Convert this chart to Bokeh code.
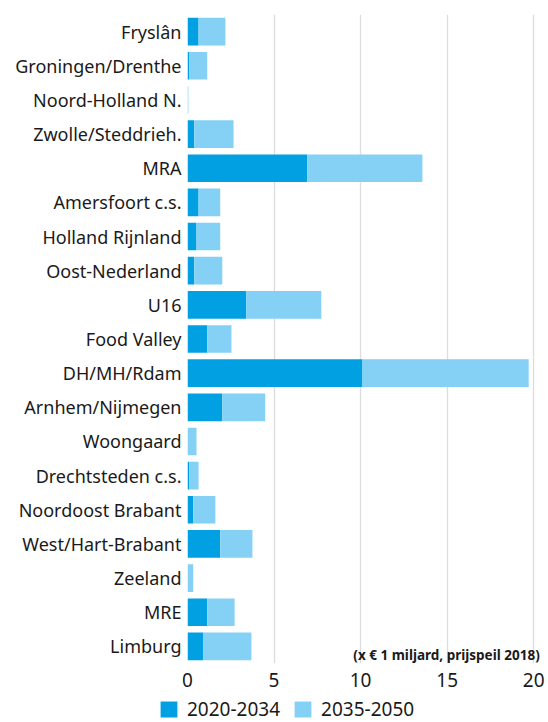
from bokeh.plotting import figure
from bokeh.layouts import column
from bokeh.models import FactorRange, Range1d, Legend, LegendItem, Label, ColumnDataSource
from bokeh.embed import file_html
from bokeh.resources import INLINE

regions = ["Fryslân", "Groningen/Drenthe", "Noord-Holland N.", "Zwolle/Steddrieh.", "MRA",
           "Amersfoort c.s.", "Holland Rijnland", "Oost-Nederland", "U16", "Food Valley",
           "DH/MH/Rdam", "Arnhem/Nijmegen", "Woongaard", "Drechtsteden c.s.",
           "Noordoost Brabant", "West/Hart-Brabant", "Zeeland", "MRE", "Limburg"]
p2020_2034 = [0.64, 0.11, 0.0, 0.39, 6.92, 0.64, 0.52, 0.39, 3.40, 1.14,
              10.11, 2.01, 0.0, 0.11, 0.33, 1.89, 0.0, 1.14, 0.92]
p2035_2050 = [1.55, 1.03, 0.05, 2.27, 6.65, 1.25, 1.37, 1.62, 4.33, 1.40,
              9.60, 2.48, 0.52, 0.53, 1.28, 1.86, 0.33, 1.58, 2.77]
series = ["2020-2034", "2035-2050"]
x_ticks = [0, 5, 10, 15, 20]
note = "(x € 1 miljard, prijspeil 2018)"

DARK = "#00A0E2"
LIGHT = "#85D0F5"
TXT = "#1a1a1a"
FONT = "Noto Sans"

src = ColumnDataSource(dict(region=regions, a=p2020_2034, b=p2035_2050))

p = figure(width=548, height=700, output_backend="svg", toolbar_location=None,
           y_range=FactorRange(factors=regions[::-1]), x_range=Range1d(0, 20.45),
           min_border_left=187, min_border_top=14, min_border_right=7, min_border_bottom=37)
p.outline_line_color = None

rs = p.hbar_stack(["a", "b"], y="region", height=0.81, color=[DARK, LIGHT], source=src,
                  line_color=None)

p.ygrid.grid_line_color = None
p.xgrid.grid_line_color = "#dddddd"
p.xgrid.grid_line_width = 1.3
p.xaxis.ticker = x_ticks
for ax in (p.xaxis[0], p.yaxis[0]):
    ax.axis_line_color = None
    ax.major_tick_line_color = None
    ax.minor_tick_line_color = None
    ax.major_tick_out = 0
    ax.major_tick_in = 0
    ax.major_label_text_color = TXT
    ax.major_label_text_font = FONT
p.yaxis.major_label_text_font_size = "18px"
p.yaxis.major_label_standoff = 6
p.xaxis.major_label_text_font_size = "19px"
p.xaxis.major_label_standoff = 9

p.add_layout(Label(x=20, y=0.24, x_offset=6, text=note, text_align="right",
                   text_baseline="middle", text_font=FONT, text_font_size="13.5px",
                   text_font_style="bold", text_color=TXT))

# legend strip below the chart, with its own full-width frame
lp = figure(width=548, height=22, output_backend="svg", toolbar_location=None,
            x_range=Range1d(0, 1), y_range=Range1d(0, 1),
            min_border_left=0, min_border_right=0, min_border_top=0, min_border_bottom=0)
lp.axis.visible = False
lp.grid.visible = False
lp.outline_line_color = None
try:
    p.frame_align = False
    lp.frame_align = False
    LEG_X = 158
except Exception:
    LEG_X = -29
lr = [lp.hbar(y=[0.5], left=[0], right=[0], height=0, color=c, line_color=None)
      for c in (DARK, LIGHT)]
legend = Legend(items=[LegendItem(label=series[i], renderers=[lr[i]]) for i in range(2)],
                orientation="horizontal", location=(LEG_X, 0),
                border_line_color=None, background_fill_alpha=0,
                glyph_width=21, glyph_height=20, label_height=20,
                label_text_font=FONT, label_text_font_size="19px", label_text_color=TXT,
                label_standoff=8, spacing=12, padding=0, margin=0)
lp.add_layout(legend, "center")

open("out.html", "w").write(file_html(column(p, lp), INLINE))
